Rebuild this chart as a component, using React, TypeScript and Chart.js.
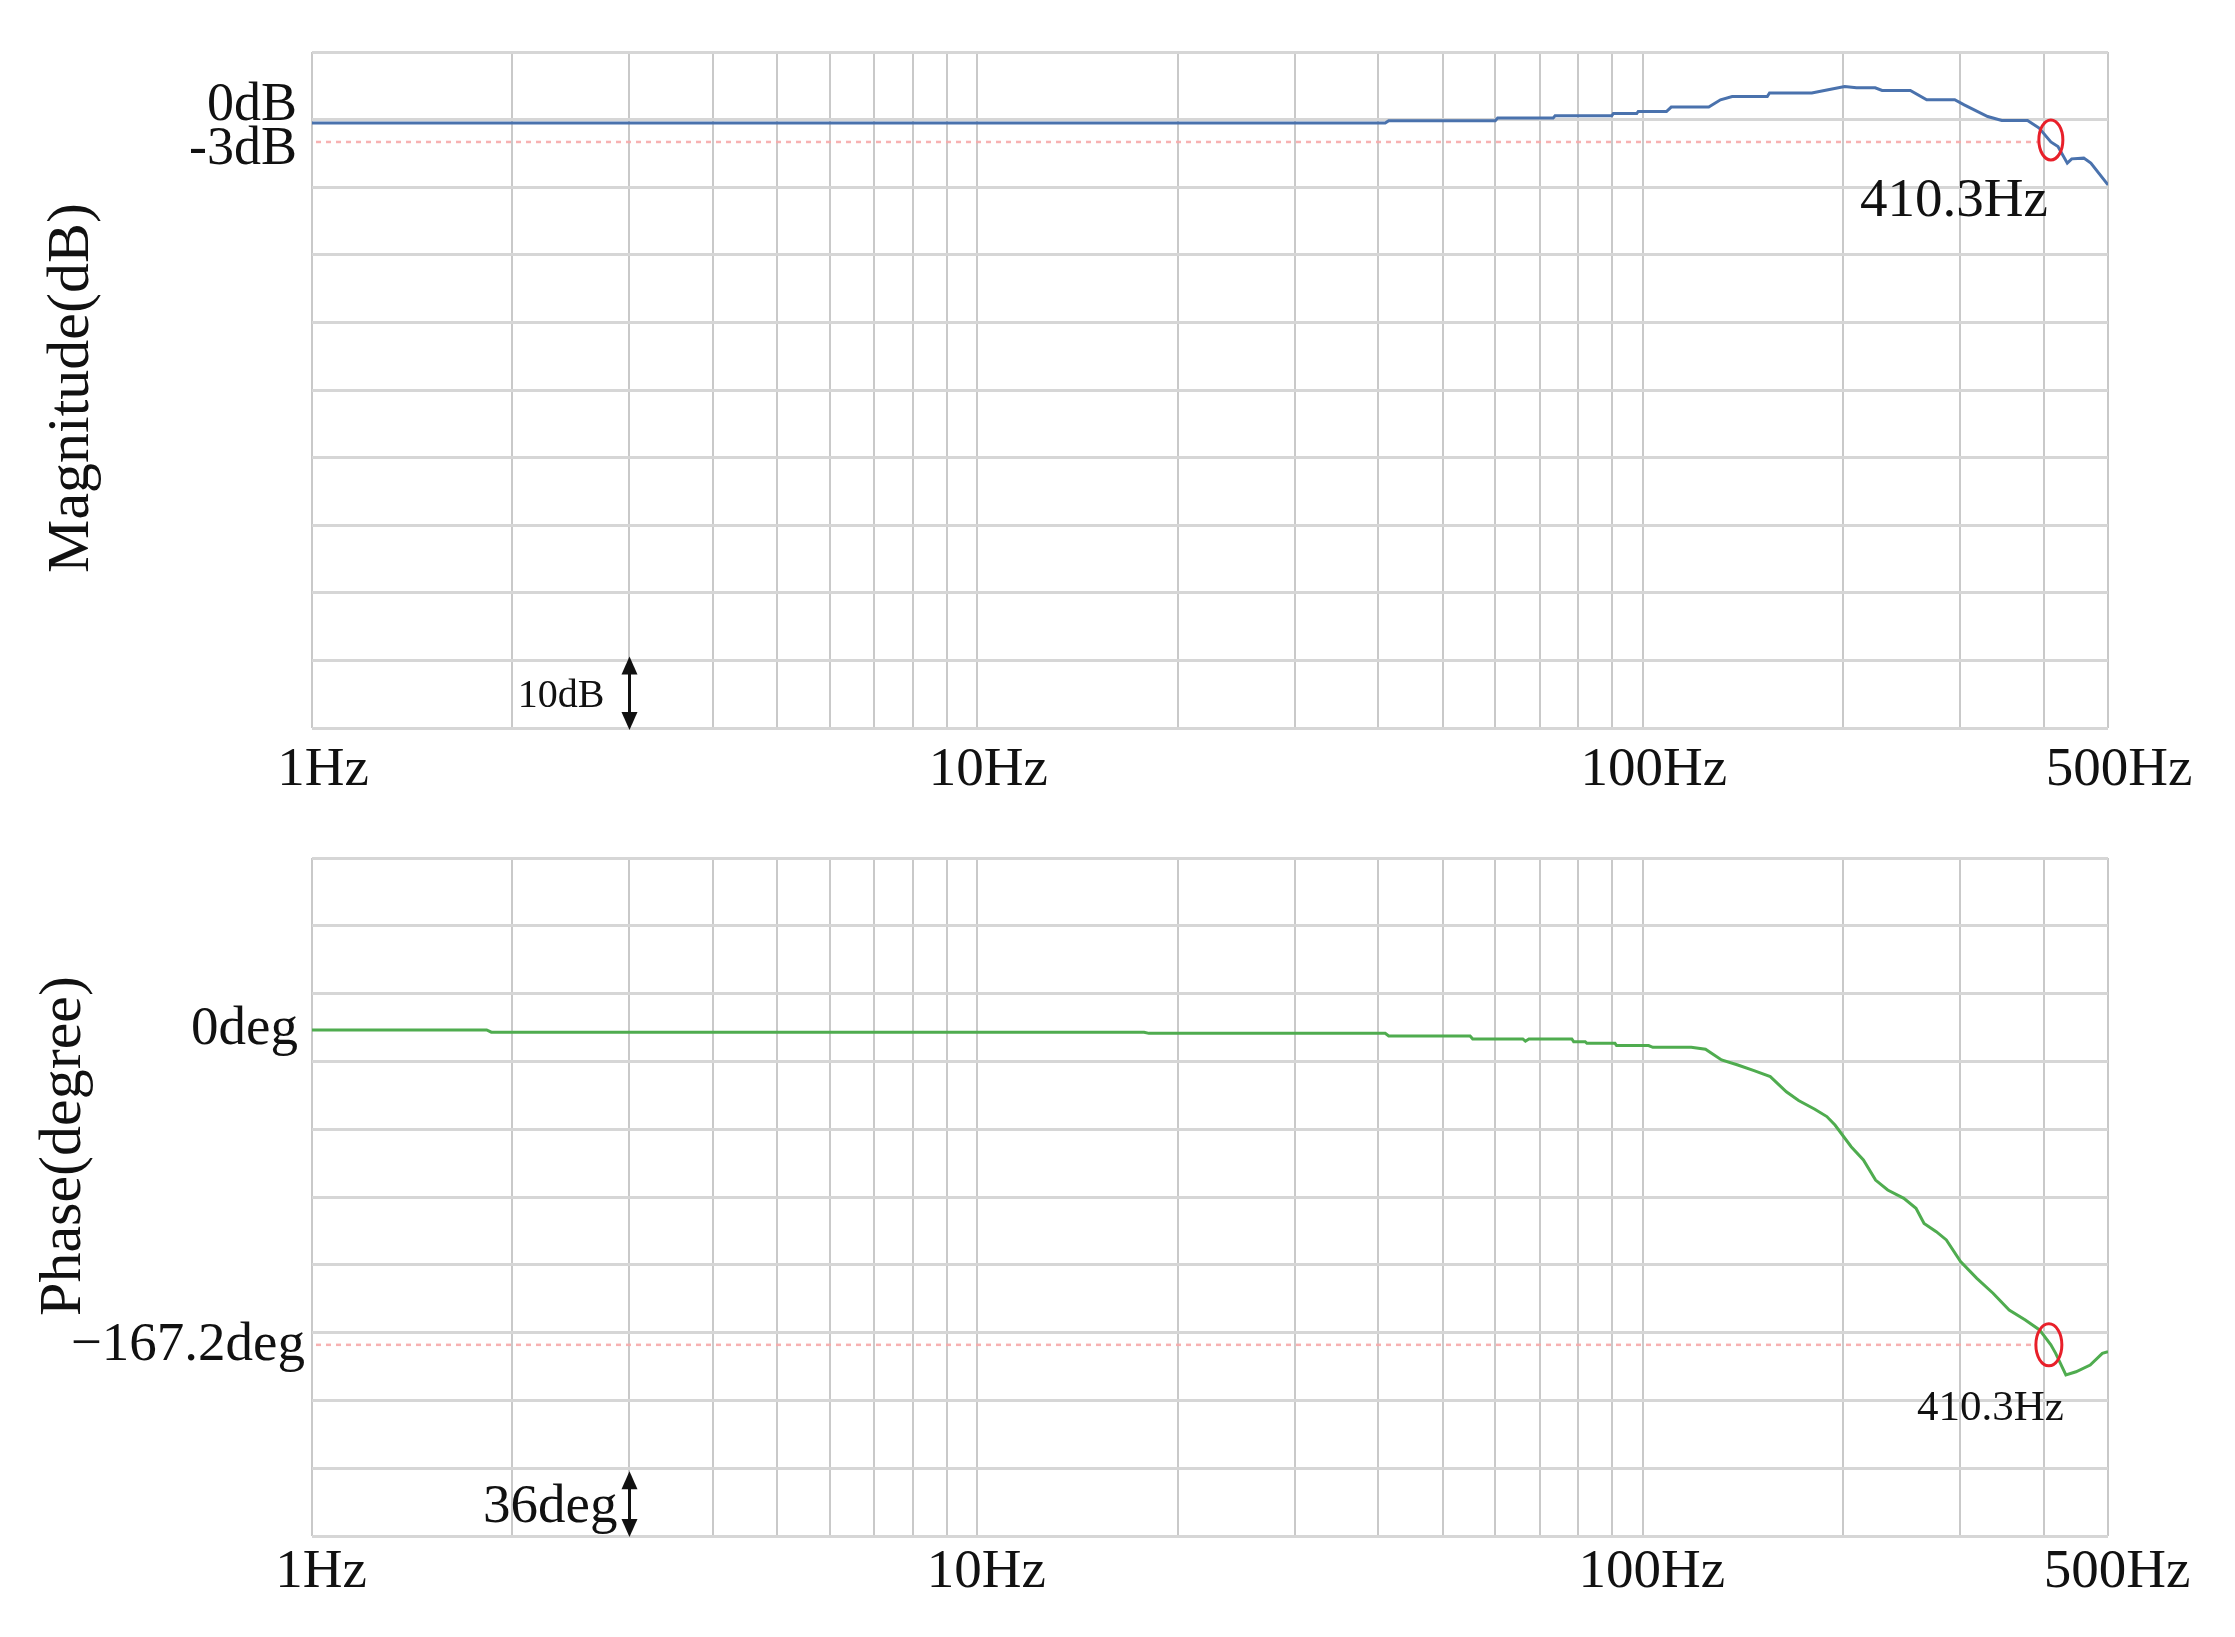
import React, { useEffect, useRef } from 'react';
import { Chart, registerables } from 'chart.js';

Chart.register(...registerables);

// ---------- data ----------
const X_MIN = 1;
const X_MAX = 500;
const X_GRID = [1, 2, 3, 4, 5, 6, 7, 8, 9, 10, 20, 30, 40, 50, 60, 70, 80, 90, 100, 200, 300, 400, 500];
const X_TICK_LABELS: Record<number, string> = { 1: '1Hz', 10: '10Hz', 100: '100Hz', 500: '500Hz' };

const MAG_FREQ = [1, 41, 41.5, 60, 60.5, 73.3, 73.8, 89.8, 90.3, 97.9, 98.4, 108.5, 110.3, 125.6, 130.8, 136.2, 153.8, 155, 179.4, 189.9, 201, 209.4, 223.4, 228.8, 252.3, 267, 294.2, 304, 329.7, 346.2, 378.5, 394, 410.3, 420.5, 434.3, 441, 459.8, 471.2, 500];
const MAG_DB = [-0.21, -0.21, 0.13, 0.13, 0.53, 0.53, 0.87, 0.87, 1.21, 1.21, 1.51, 1.51, 2.16, 2.16, 3.24, 3.73, 3.73, 4.24, 4.24, 4.73, 5.21, 5.01, 5.01, 4.62, 4.62, 3.24, 3.24, 2.5, 0.77, 0.18, 0.18, -0.95, -3, -3.67, -6.13, -5.5, -5.39, -6.13, -9.35];

const PHASE_FREQ = [1, 1.83, 1.86, 17.8, 18.1, 41, 41.5, 55, 55.5, 66, 66.6, 67.4, 78.2, 78.7, 81.9, 82.4, 90.8, 91.3, 102, 103.5, 118.2, 124.2, 131.3, 138.9, 146.9, 155.4, 164.3, 171.4, 181.3, 189, 194.4, 205.6, 214.5, 223.7, 233.3, 246.7, 257.3, 264.6, 276, 285.8, 300.2, 317.6, 335.9, 355.2, 375.6, 394.6, 410.3, 417.2, 432.2, 447.6, 470.1, 490.3, 500];
const PHASE_DEG = [0, 0, -1.2, -1.2, -1.8, -1.8, -3.2, -3.2, -4.8, -4.8, -6.0, -4.8, -4.8, -6.2, -6.2, -7.1, -7.1, -8.3, -8.3, -9.2, -9.2, -10.2, -15.9, -18.6, -21.6, -24.8, -32.8, -37.5, -42.1, -46, -50.5, -62, -69, -79.7, -85, -89.4, -94.7, -102.7, -107.1, -111.5, -123, -131.9, -139.8, -148.7, -154, -159.3, -167.2, -171.7, -183.2, -181.5, -177.9, -171.7, -170.8];

const MAG_MAX = 10.31;
const MAG_MIN = -89.69;
const MAG_STEP = 10;
const PH_MAX = 91.3;
const PH_MIN = -268.7;
const PH_STEP = 36;

const CUTOFF_HZ = 410.3;
const CUTOFF_DB = -3;
const CUTOFF_DEG = -167.2;
const SCALE_MARK_HZ = 3;

const MAG_TITLE = 'Magnitude(dB)';
const PH_TITLE = 'Phase(degree)';
const MAG_LABEL_0 = '0dB';
const MAG_LABEL_3 = '-3dB';
const PH_LABEL_0 = '0deg';
const PH_LABEL_C = '\u2212167.2deg';
const CUTOFF_LABEL = '410.3Hz';
const MAG_DIV_LABEL = '10dB';
const PH_DIV_LABEL = '36deg';

// ---------- helpers ----------
const FONT = '"Liberation Serif", "Times New Roman", serif';
const W = 2235;

function gridValues(max: number, min: number, step: number) {
  const n = Math.round((max - min) / step);
  const out: number[] = [];
  for (let i = 0; i <= n; i++) out.push(max - i * step);
  return out;
}

function drawText(ctx: CanvasRenderingContext2D, s: string, x: number, y: number, size: number, align: CanvasTextAlign = 'right') {
  ctx.save();
  ctx.font = `${size}px ${FONT}`;
  ctx.fillStyle = '#111';
  ctx.textAlign = align;
  ctx.textBaseline = 'alphabetic';
  ctx.fillText(s, x, y);
  ctx.restore();
}

function drawVTitle(ctx: CanvasRenderingContext2D, s: string, baseX: number, cy: number, size: number) {
  ctx.save();
  ctx.translate(baseX, cy);
  ctx.rotate(-Math.PI / 2);
  ctx.font = `${size}px ${FONT}`;
  ctx.fillStyle = '#111';
  ctx.textAlign = 'center';
  ctx.textBaseline = 'alphabetic';
  ctx.fillText(s, 0, 0);
  ctx.restore();
}

function drawArrow(ctx: CanvasRenderingContext2D, x: number, y1: number, y2: number) {
  const hh = 18, hw = 8;
  ctx.save();
  ctx.strokeStyle = '#111';
  ctx.fillStyle = '#111';
  ctx.lineWidth = 3;
  ctx.beginPath();
  ctx.moveTo(x, y1 + hh - 2);
  ctx.lineTo(x, y2 - hh + 2);
  ctx.stroke();
  ctx.beginPath();
  ctx.moveTo(x, y1);
  ctx.lineTo(x - hw, y1 + hh);
  ctx.lineTo(x + hw, y1 + hh);
  ctx.closePath();
  ctx.fill();
  ctx.beginPath();
  ctx.moveTo(x, y2);
  ctx.lineTo(x - hw, y2 - hh);
  ctx.lineTo(x + hw, y2 - hh);
  ctx.closePath();
  ctx.fill();
  ctx.restore();
}

function drawDotted(ctx: CanvasRenderingContext2D, x1: number, x2: number, y: number) {
  ctx.save();
  ctx.strokeStyle = 'rgba(246,170,170,0.9)';
  ctx.lineWidth = 2.5;
  ctx.setLineDash([5, 5]);
  ctx.beginPath();
  ctx.moveTo(x1, y);
  ctx.lineTo(x2, y);
  ctx.stroke();
  ctx.restore();
}

function drawEllipse(ctx: CanvasRenderingContext2D, x: number, y: number, rx: number, ry: number) {
  ctx.save();
  ctx.strokeStyle = '#e8202a';
  ctx.lineWidth = 3;
  ctx.beginPath();
  ctx.ellipse(x, y, rx, ry, 0, 0, Math.PI * 2);
  ctx.stroke();
  ctx.restore();
}

function makeOptions(yMin: number, yMax: number, yStep: number, xHeight: number, xPad: number, topPad: number, labelShift: number) {
  const yGrid = gridValues(yMax, yMin, yStep);
  return {
    responsive: false,
    animation: false,
    devicePixelRatio: 1,
    layout: { padding: { top: topPad, right: W - 2108, left: 0, bottom: 0 } },
    plugins: { legend: { display: false }, tooltip: { enabled: false } },
    elements: { point: { radius: 0 } },
    scales: {
      x: {
        type: 'logarithmic',
        min: X_MIN,
        max: X_MAX,
        afterBuildTicks: (s: any) => { s.ticks = X_GRID.map((v) => ({ value: v })); },
        afterFit: (s: any) => { s.height = xHeight; },
        grid: { color: '#c9c9c9', lineWidth: 2, drawTicks: false },
        border: { display: false },
        ticks: {
          autoSkip: false,
          maxRotation: 0,
          minRotation: 0,
          padding: xPad,
          labelOffset: labelShift,
          color: '#111',
          font: { family: FONT, size: 55, lineHeight: 1 },
          callback: (v: any) => X_TICK_LABELS[Number(v)] ?? '',
        },
      },
      y: {
        min: yMin,
        max: yMax,
        afterBuildTicks: (s: any) => { s.ticks = yGrid.map((v) => ({ value: v })); },
        afterFit: (s: any) => { s.width = 312; },
        grid: { color: '#d6d6d6', lineWidth: 3, drawTicks: false },
        border: { display: false },
        ticks: { display: false },
      },
    },
  };
}

const magPlugin = {
  id: 'magMarks',
  beforeDatasetsDraw(chart: any) {
    const { ctx, chartArea } = chart;
    const xs = chart.scales.x, ys = chart.scales.y;
    drawDotted(ctx, chartArea.left + 4, xs.getPixelForValue(CUTOFF_HZ) - 12, ys.getPixelForValue(CUTOFF_DB));
  },
  afterDatasetsDraw(chart: any) {
    const { ctx } = chart;
    const xs = chart.scales.x, ys = chart.scales.y;
    drawEllipse(ctx, xs.getPixelForValue(CUTOFF_HZ), ys.getPixelForValue(CUTOFF_DB) - 2, 12, 20);
  },
  afterDraw(chart: any) {
    const { ctx, chartArea } = chart;
    const xs = chart.scales.x, ys = chart.scales.y;
    const y0 = ys.getPixelForValue(0);
    const y3 = ys.getPixelForValue(CUTOFF_DB);
    drawText(ctx, MAG_LABEL_0, chartArea.left - 15, y0 - 2, 54);
    drawText(ctx, MAG_LABEL_3, chartArea.left - 15, y3 + 22, 54);
    const xc = xs.getPixelForValue(CUTOFF_HZ);
    drawText(ctx, CUTOFF_LABEL, xc - 3, y3 + 74, 55);
    const xa = xs.getPixelForValue(SCALE_MARK_HZ);
    const divTop = ys.getPixelForValue(MAG_MIN + MAG_STEP);
    drawArrow(ctx, xa, divTop - 4, chartArea.bottom + 2);
    drawText(ctx, MAG_DIV_LABEL, xa - 25, chartArea.bottom - 21, 40);
    drawVTitle(ctx, MAG_TITLE, 88, (chartArea.top + chartArea.bottom) / 2 - 2, 60);
  },
};

const phasePlugin = {
  id: 'phaseMarks',
  beforeDatasetsDraw(chart: any) {
    const { ctx, chartArea } = chart;
    const xs = chart.scales.x, ys = chart.scales.y;
    drawDotted(ctx, chartArea.left + 4, xs.getPixelForValue(CUTOFF_HZ) - 14, ys.getPixelForValue(CUTOFF_DEG));
  },
  afterDatasetsDraw(chart: any) {
    const { ctx } = chart;
    const xs = chart.scales.x, ys = chart.scales.y;
    drawEllipse(ctx, xs.getPixelForValue(CUTOFF_HZ) - 2, ys.getPixelForValue(CUTOFF_DEG), 13, 21);
  },
  afterDraw(chart: any) {
    const { ctx, chartArea } = chart;
    const xs = chart.scales.x, ys = chart.scales.y;
    const y0 = ys.getPixelForValue(0);
    const yc = ys.getPixelForValue(CUTOFF_DEG);
    drawText(ctx, PH_LABEL_0, chartArea.left - 14, y0 + 14, 55);
    drawText(ctx, PH_LABEL_C, chartArea.left - 7, yc + 15, 55);
    const xc = xs.getPixelForValue(CUTOFF_HZ);
    drawText(ctx, CUTOFF_LABEL, xc + 13, yc + 75, 43);
    const xa = xs.getPixelForValue(SCALE_MARK_HZ);
    const divTop = ys.getPixelForValue(PH_MIN + PH_STEP);
    drawArrow(ctx, xa, divTop + 3, chartArea.bottom + 1);
    drawText(ctx, PH_DIV_LABEL, xa - 12, chartArea.bottom - 14, 55);
    drawVTitle(ctx, PH_TITLE, 80, (chartArea.top + chartArea.bottom) / 2 - 51, 60);
  },
};

function toPoints(xs: number[], ys: number[]) {
  return xs.map((x, i) => ({ x, y: ys[i] }));
}

export default function App() {
  const magRef = useRef<HTMLCanvasElement>(null);
  const phRef = useRef<HTMLCanvasElement>(null);

  useEffect(() => {
    const magChart = new Chart(magRef.current as HTMLCanvasElement, {
      type: 'line',
      data: {
        datasets: [{
          data: toPoints(MAG_FREQ, MAG_DB),
          borderColor: '#4a72ad',
          borderWidth: 3,
          pointRadius: 0,
          tension: 0,
          fill: false,
        }],
      },
      options: makeOptions(MAG_MIN, MAG_MAX, MAG_STEP, 92, 15, 52, 11) as any,
      plugins: [magPlugin],
    });
    const phChart = new Chart(phRef.current as HTMLCanvasElement, {
      type: 'line',
      data: {
        datasets: [{
          data: toPoints(PHASE_FREQ, PHASE_DEG),
          borderColor: '#4fac4f',
          borderWidth: 3,
          pointRadius: 0,
          tension: 0,
          fill: false,
        }],
      },
      options: makeOptions(PH_MIN, PH_MAX, PH_STEP, 101, 9, 38, 9) as any,
      plugins: [phasePlugin],
    });
    return () => {
      magChart.destroy();
      phChart.destroy();
    };
  }, []);

  return (
    <div style={{ position: 'absolute', left: 0, top: 0, width: W, height: 1637, background: '#fff' }}>
      <canvas ref={magRef} width={W} height={820} style={{ position: 'absolute', left: 0, top: 0, width: W, height: 820 }} />
      <canvas ref={phRef} width={W} height={817} style={{ position: 'absolute', left: 0, top: 820, width: W, height: 817 }} />
    </div>
  );
}
